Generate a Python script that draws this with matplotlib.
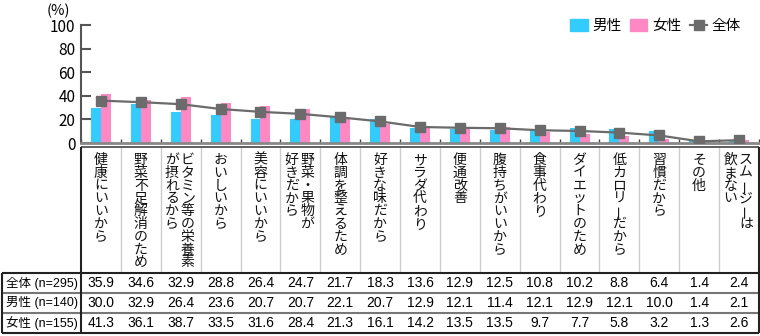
import matplotlib
matplotlib.use('Agg')
import matplotlib.pyplot as plt
from matplotlib.patches import Patch
from matplotlib.lines import Line2D
import numpy as np

plt.rcParams['font.family'] = ['Noto Sans CJK JP', 'DejaVu Sans']

# 選択理由（縦書きラベル。"/" で列を分ける）
categories = [
    '健康にいいから', '野菜不足解消のため', 'ビタミン等の栄養素/が摂れるから',
    'おいしいから', '美容にいいから', '野菜・果物が/好きだから',
    '体調を整えるため', '好きな味だから', 'サラダ代わり', '便通改善',
    '腹持ちがいいから', '食事代わり', 'ダイエットのため', '低カロリーだから',
    '習慣だから', 'その他', 'スムージーは/飲まない',
]
total = [35.9, 34.6, 32.9, 28.8, 26.4, 24.7, 21.7, 18.3, 13.6, 12.9,
         12.5, 10.8, 10.2, 8.8, 6.4, 1.4, 2.4]
male = [30.0, 32.9, 26.4, 23.6, 20.7, 20.7, 22.1, 20.7, 12.9, 12.1,
        11.4, 12.1, 12.9, 12.1, 10.0, 1.4, 2.1]
female = [41.3, 36.1, 38.7, 33.5, 31.6, 28.4, 21.3, 16.1, 14.2, 13.5,
          13.5, 9.7, 7.7, 5.8, 3.2, 1.3, 2.6]
row_labels = ['全体 (n=295)', '男性 (n=140)', '女性 (n=155)']
yticks = [0, 20, 40, 60, 80, 100]

C_MALE = '#33CCFF'
C_FEMALE = '#FF88C4'
C_TOTAL = '#6B6B6B'

W, H = 760, 336
fig = plt.figure(figsize=(W / 100, H / 100), dpi=100)

n = len(categories)
x = np.arange(n)

# --- グラフ部 ---
ax = fig.add_axes([81 / W, 1 - 143 / H, 678 / W, 118 / H])
bw = 0.25
ax.bar(x - bw / 2, male, bw, color=C_MALE, zorder=2)
ax.bar(x + bw / 2, female, bw, color=C_FEMALE, zorder=2)
ax.plot(x, total, color=C_TOTAL, lw=1.6, marker='s', ms=6.5, zorder=3)

ax.set_xlim(-0.5, n - 0.5)
ax.set_ylim(0, 100)
ax.set_yticks(yticks)
ax.tick_params(axis='y', direction='in', length=7, width=1.5, color='#555555',
               labelsize=11, pad=4)
ax.set_xticks(np.arange(n + 1) - 0.5)
ax.set_xticklabels([])
ax.tick_params(axis='x', direction='in', length=3, width=1, color='#444444')
for s in ['top', 'right']:
    ax.spines[s].set_visible(False)
ax.spines['left'].set_color('#555555')
ax.spines['left'].set_linewidth(1.5)
ax.spines['bottom'].set_color('#888888')
ax.spines['bottom'].set_linewidth(2)

fig.text(47 / W, 1 - 11 / H, '(%)', fontsize=10.5, va='center')

handles = [Patch(color=C_MALE), Patch(color=C_FEMALE),
           Line2D([], [], color=C_TOTAL, lw=1.6, marker='s', ms=6.5)]
fig.legend(handles, ['男性', '女性', '全体'], loc='upper right',
           bbox_to_anchor=(754 / W, 1 - 6 / H), ncol=3, frameon=False,
           fontsize=10.5, handlelength=1.2, handleheight=0.9,
           handletextpad=0.3, columnspacing=0.6)

# --- ラベル・データ表 ---
ta = fig.add_axes([81 / W, 1 - 333 / H, 678 / W, 186 / H])
ta.set_xlim(-0.5, n - 0.5)
ta.set_ylim(333, 147)
ta.axis('off')
xu = 678 / n  # 1カテゴリあたりのピクセル幅
x_left = -0.5 - 79 / xu
x_right = n - 0.5

def hline(y, x0, color, lw=1.2):
    ta.plot([x0, x_right], [y, y], color=color, lw=lw, clip_on=False,
            solid_capstyle='butt')

def vline(xx, y0, y1, color, lw=1.2):
    ta.plot([xx, xx], [y0, y1], color=color, lw=lw, clip_on=False,
            solid_capstyle='butt')

# 縦書きラベル
step = 12.8
for i, lab in enumerate(categories):
    cols = lab.split('/')
    if len(cols) == 1:
        offs = [0.0]
    else:
        offs = [0.17, -0.22]
    for col, off in zip(cols, offs):
        for k, ch in enumerate(col):
            rot = 90 if ch == 'ー' else 0
            ta.text(i + off, 160 + k * step, ch, fontsize=10,
                    ha='center', va='center', rotation=rot, color='#111111')
    if i > 0:
        vline(i - 0.5, 147, 273, '#CCCCCC', lw=1)

# 表の数値
rows = [total, male, female]
row_y = [273, 293, 313, 333]
tfont = ['Liberation Sans', 'Noto Sans CJK JP']
for r, (lab, vals) in enumerate(zip(row_labels, rows)):
    yc = (row_y[r] + row_y[r + 1]) / 2
    ta.text(x_left + 4 / xu, yc, lab, fontsize=9, ha='left', va='center',
            family=tfont, clip_on=False)
    for i, v in enumerate(vals):
        ta.text(i, yc, f'{v:.1f}', fontsize=10, ha='center', va='center',
                family=tfont)

# 罫線
hline(147, -0.5, '#444444', lw=1.2)
hline(273, x_left, '#222222', lw=1.5)
hline(293, x_left, '#777777', lw=1.5)
hline(313, x_left, '#777777', lw=1.5)
hline(333, x_left, '#222222', lw=1.5)
vline(-0.5, 147, 333, '#222222', lw=1.5)
vline(x_left, 273, 333, '#222222', lw=1.5)
vline(x_right, 147, 333, '#222222', lw=1.5)

fig.savefig('out.png', dpi=100, facecolor='white')
